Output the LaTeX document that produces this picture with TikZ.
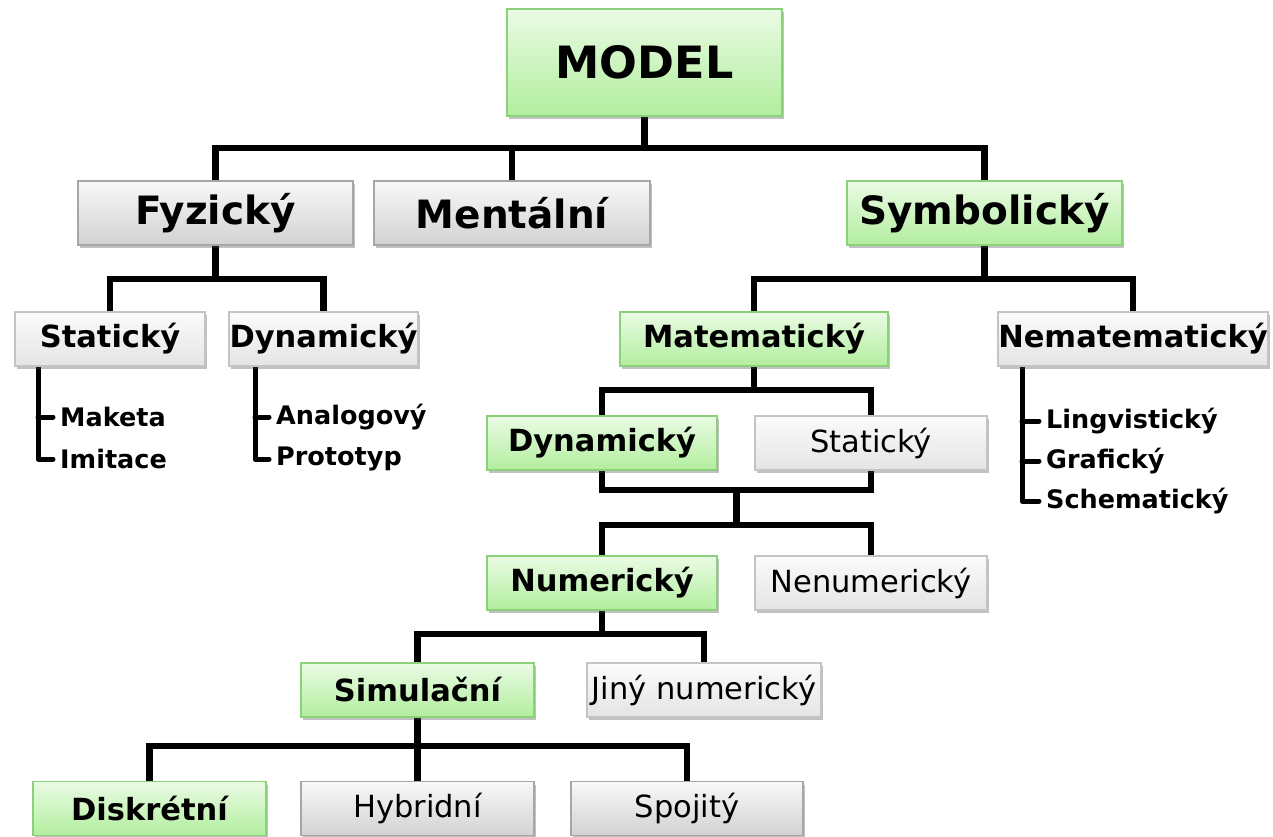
\documentclass[tikz,border=0pt]{standalone}
\usepackage{fontspec}
\setmainfont{DejaVu Sans}
\usetikzlibrary{shadows,backgrounds}
\definecolor{gtop}{HTML}{EAFBE4}
\definecolor{gbot}{HTML}{B2EE9E}
\definecolor{gline}{HTML}{8CD07C}
\definecolor{ktop}{HTML}{F8F8F8}
\definecolor{kbot}{HTML}{D2D2D2}
\definecolor{kline}{HTML}{A6A6A6}
\definecolor{ltop}{HTML}{FBFBFB}
\definecolor{lbot}{HTML}{E4E4E4}
\definecolor{lline}{HTML}{C4C4C4}
\tikzset{
  basebox/.style={rectangle, inner sep=0pt, line width=1.2pt, text=black,
    drop shadow={shadow xshift=2pt, shadow yshift=-3pt, opacity=0.35, fill=black!70}},
  greenbox/.style={basebox, draw=gline, top color=gtop, bottom color=gbot},
  greybox/.style={basebox, draw=kline, top color=ktop, bottom color=kbot},
  lightbox/.style={basebox, draw=lline, top color=ltop, bottom color=lbot},
  fbig/.style={font=\fontsize{44.5}{46}\selectfont\bfseries},
  fone/.style={font=\fontsize{39}{41}\selectfont\bfseries},
  ftwo/.style={font=\fontsize{30.5}{32}\selectfont\bfseries},
  freg/.style={font=\fontsize{30.5}{32}\selectfont},
  fleaf/.style={font=\fontsize{25.5}{27}\selectfont\bfseries},
  leaftext/.style={fleaf, anchor=west, inner sep=0pt},
  conn/.style={line width=6.5pt, draw=black},
  leafline/.style={line width=5pt, draw=black, line cap=round, line join=round},
}
\begin{document}
\begin{tikzpicture}[x=1pt,y=-1pt]
\useasboundingbox (0,0) rectangle (1273,836);
% boxes
\node[greenbox, fbig, minimum width=275pt, minimum height=107pt] (model) at (644.5,62.5) {MODEL};
\node[greybox, fone, minimum width=275pt, minimum height=64pt] (fyz) at (215.5,213) {Fyzický};
\node[greybox, fone, minimum width=276pt, minimum height=64pt] (ment) at (512,213) {Mentální};
\node[greenbox, fone, minimum width=275pt, minimum height=64pt] (symb) at (984.5,213) {Symbolický};
\node[lightbox, ftwo, minimum width=190pt, minimum height=54pt] (stat1) at (110,339) {Statický};
\node[lightbox, ftwo, minimum width=189pt, minimum height=54pt] (dyn1) at (323.5,339) {Dynamický};
\node[greenbox, ftwo, minimum width=268pt, minimum height=54pt] (mat) at (754,339) {Matematický};
\node[lightbox, ftwo, minimum width=270pt, minimum height=54pt] (nemat) at (1133,339) {Nematematický};
\node[greenbox, ftwo, minimum width=230pt, minimum height=54pt] (dyn2) at (602,443) {Dynamický};
\node[lightbox, freg, minimum width=232pt, minimum height=54pt] (stat2) at (871,443) {Statický};
\node[greenbox, ftwo, minimum width=230pt, minimum height=54pt] (num) at (602,583) {Numerický};
\node[lightbox, freg, minimum width=232pt, minimum height=54pt] (nenum) at (871,583) {Nenumerický};
\node[greenbox, ftwo, minimum width=233pt, minimum height=54pt] (sim) at (417.5,690) {Simulační};
\node[lightbox, freg, minimum width=234pt, minimum height=54pt] (jiny) at (704,690) {Jiný numerický};
\node[greenbox, ftwo, minimum width=233pt, minimum height=54pt] (disk) at (149.5,808.5) {Diskrétní};
\node[greybox, freg, minimum width=233pt, minimum height=54pt] (hyb) at (417.5,808.5) {Hybridní};
\node[greybox, freg, minimum width=232pt, minimum height=54pt] (spoj) at (687,808.5) {Spojitý};
% leaf texts
\node[leaftext] (maketa) at (60,417) {Maketa};
\node[leaftext] (imit) at (60,459) {Imitace};
\node[leaftext] (analog) at (276,417) {Analogový};
\node[leaftext] (proto) at (276,459) {Prototyp};
\node[leaftext] (ling) at (1046,421) {Lingvistický};
\node[leaftext] (graf) at (1046,461) {Grafický};
\node[leaftext] (schem) at (1046,501) {Schematický};
% junction coordinates
\coordinate (j1) at (644.5,148);
\coordinate (j2) at (215.5,279);
\coordinate (j3) at (984.5,279);
\coordinate (j4) at (754,390);
\coordinate (j5) at (736.5,490);
\coordinate (j6) at (736.5,525);
\coordinate (j7) at (602,634);
\coordinate (j8) at (417.5,746);
\coordinate (l1) at (38,0);
\coordinate (l2) at (255,0);
\coordinate (l3) at (1022,0);
\begin{pgfonlayer}{background}
\draw[conn] (model.south) -- (j1);
\draw[conn] (fyz.north) |- (j1) -| (symb.north);
\draw[conn] (ment.north) -- (ment.north |- j1);
\draw[conn] (fyz.south) -- (j2);
\draw[conn] (stat1.north) |- (j2) -| (dyn1.north);
\draw[conn] (symb.south) -- (j3);
\draw[conn] (mat.north) |- (j3) -| (nemat.north);
\draw[conn] (mat.south) -- (j4);
\draw[conn] (dyn2.north) |- (j4) -| (stat2.north);
\draw[conn] (dyn2.south) |- (j5) -| (stat2.south);
\draw[conn] (j5) -- (j6);
\draw[conn] (num.north) |- (j6) -| (nenum.north);
\draw[conn] (num.south) -- (j7);
\draw[conn] (sim.north) |- (j7) -| (jiny.north);
\draw[conn] (sim.south) -- (j8);
\draw[conn] (disk.north) |- (j8) -| (spoj.north);
\draw[conn] (hyb.north) -- (j8);
% leaf lines
\draw[leafline] (stat1.south -| l1) |- ([xshift=-7pt]imit.west);
\draw[leafline] (maketa.west -| l1) -- ([xshift=-7pt]maketa.west);
\draw[leafline] (dyn1.south -| l2) |- ([xshift=-7pt]proto.west);
\draw[leafline] (analog.west -| l2) -- ([xshift=-7pt]analog.west);
\draw[leafline] (nemat.south -| l3) |- ([xshift=-7pt]schem.west);
\draw[leafline] (ling.west -| l3) -- ([xshift=-7pt]ling.west);
\draw[leafline] (graf.west -| l3) -- ([xshift=-7pt]graf.west);
\end{pgfonlayer}
\end{tikzpicture}
\end{document}
